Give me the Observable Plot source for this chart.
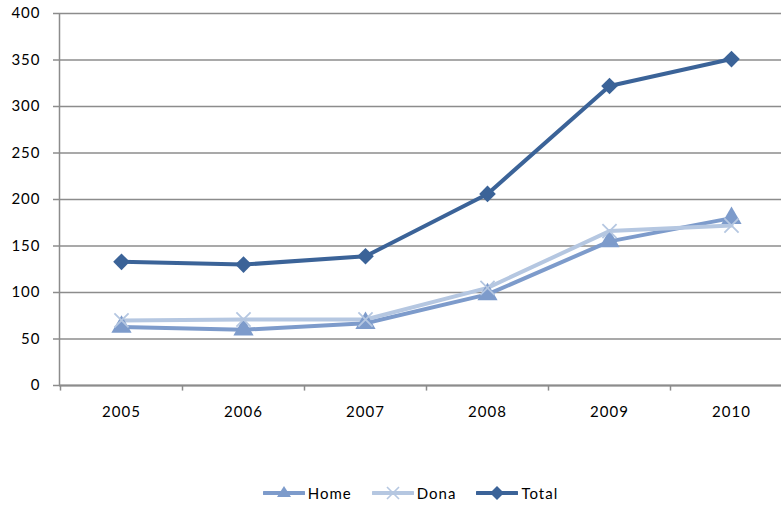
<!DOCTYPE html>
<html><head><meta charset="utf-8">
<script src="https://cdn.jsdelivr.net/npm/d3@7"></script>
<script src="https://cdn.jsdelivr.net/npm/@observablehq/plot@0.6"></script>
<style>
body{margin:0;background:#fff;font-family:Lato,"Open Sans",sans-serif;}
#legend{display:flex;justify-content:center;align-items:center;gap:20px;height:66px;font-size:15px;letter-spacing:1px;color:#000;padding-left:40px;padding-top:40px;box-sizing:border-box}
#legend .it{display:flex;align-items:center;gap:3px}
</style></head><body>
<div id="chart"></div>
<div id="legend"></div>
<script>
const years = ["2005","2006","2007","2008","2009","2010"];
const home  = [63, 60, 67, 98, 155, 180];
const dona  = [70, 71, 71, 105, 166, 172];
const total = [133, 130, 139, 206, 322, 351];
const yTicks = [0,50,100,150,200,250,300,350,400];
const seriesNames = ["Home","Dona","Total"];
const seriesValues = [home, dona, total];
const colors = {Home:"#7D9BCB", Dona:"#B5C7E1", Total:"#3B6398"};
const symbols = {Home:"triangle", Dona:"times", Total:"diamond2"};

const data = seriesNames.flatMap((s,i)=>years.map((y,j)=>({series:s, year:y, value:seriesValues[i][j]})));

const W = 781, H = 440;
const step = 122;
const plot = Plot.plot({
  width: W, height: H,
  marginLeft: 59, marginRight: 0, marginTop: 13, marginBottom: 55,
  style:{fontFamily:"Lato, 'Open Sans', sans-serif", fontSize:"15px", letterSpacing:"1px", color:"#000", background:"#fff"},
  x: {type:"point", domain: years, range:[121, 121 + step*5], padding:0, label:null, axis:null},
  y: {type:"linear", domain:[0,400], label:null, axis:null},
  marks: [
    Plot.ruleY(yTicks, {y:d=>d, stroke:"#8c8c8c", strokeWidth:1.5, strokeOpacity:1, insetLeft:-6}),
    Plot.axisY(yTicks, {tickSize:0, tickPadding:19, fontSize:15, fill:"#000"}),
    Plot.ruleX([years[0]], {x:d=>d, dx:-62, y1:0, y2:400, stroke:"#8c8c8c", strokeWidth:1.5}),
    Plot.ruleY([0], {y:d=>d, stroke:"#8c8c8c", strokeWidth:2}),
    Plot.ruleX(years, {x:d=>d, dx:-61, y1:0, y2:-6, stroke:"#8c8c8c", strokeWidth:1.5}),
    Plot.axisX(years, {tickSize:0, tickPadding:21, fontSize:15, fill:"#000"}),
    Plot.line(data, {x:"year", y:"value", z:"series", stroke:d=>colors[d.series], strokeWidth:4, curve:"linear"}),
    Plot.dot(data.filter(d=>d.series!=="Dona"), {x:"year", y:"value", symbol:d=>symbols[d.series], fill:d=>colors[d.series], stroke:"none", r:7.5}),
    Plot.dot(data.filter(d=>d.series==="Dona"), {x:"year", y:"value", symbol:"times", stroke:d=>colors[d.series], strokeWidth:1.8, r:6.5})
  ]
});
document.getElementById("chart").appendChild(plot);

const legend = document.getElementById("legend");
seriesNames.forEach(s=>{
  const c = colors[s];
  const it = document.createElement("div"); it.className="it";
  it.innerHTML = `<svg width="42" height="16" viewBox="0 -8 42 16"><line x1="1" x2="41" y1="0" y2="0" stroke="${c}" stroke-width="4" stroke-linecap="round"/>${s==="Home"?`<path d="M21,-7 L28,4 L14,4Z" fill="${c}"/>`:s==="Dona"?`<path d="M15,-6 L27,6 M15,6 L27,-6" stroke="${c}" stroke-width="1.6"/>`:`<path d="M21,-7 L28,0 L21,7 L14,0Z" fill="${c}"/>`}</svg><span>${s}</span>`;
  legend.appendChild(it);
});
</script>
</body></html>
